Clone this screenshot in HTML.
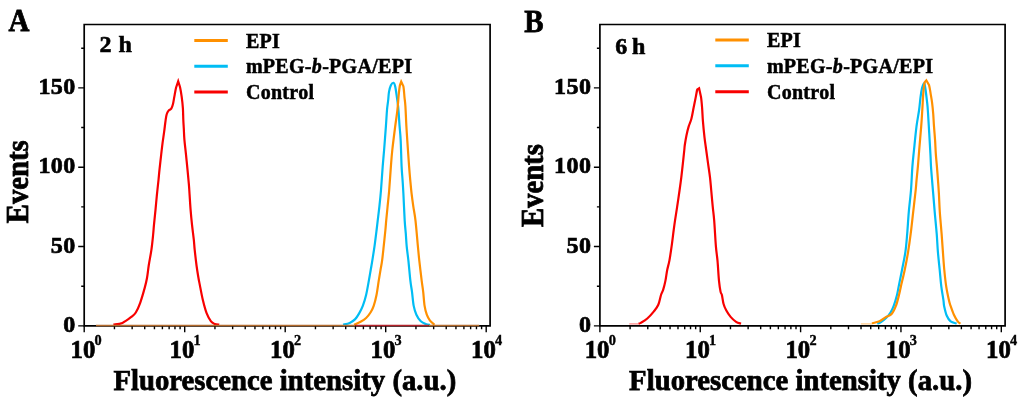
<!DOCTYPE html>
<html><head><meta charset="utf-8"><style>
html,body{margin:0;padding:0;background:#fff;width:1024px;height:403px;overflow:hidden}
svg{display:block;will-change:transform}
text{font-family:"Liberation Serif",serif;font-weight:bold;fill:#000}
.tl{font-size:24px;stroke:#000;stroke-width:0.7px}
.xl{font-size:24.8px}
.sup{font-size:14.3px;stroke:#000;stroke-width:0.4px}
.pl{font-size:29px;stroke:#000;stroke-width:0.7px}
.hr{font-size:24px;stroke:#000;stroke-width:0.6px}
.at{font-size:28.7px;stroke:#000;stroke-width:0.75px}
.lg{font-size:20px;letter-spacing:0.3px;stroke:#000;stroke-width:0.5px}
</style></head><body>
<svg width="1024" height="403" viewBox="0 0 1024 403">
<path d="M113.40,324.60C114.90,324.32 119.42,324.18 122.40,322.90C125.38,321.62 129.07,318.63 131.30,316.90C133.53,315.17 134.32,314.85 135.80,312.50C137.28,310.15 138.72,306.90 140.20,302.80C141.68,298.70 143.57,292.03 144.70,287.90C145.83,283.77 146.32,281.82 147.00,278.00C147.68,274.18 148.07,269.68 148.80,265.00C149.53,260.32 150.68,254.90 151.40,249.90C152.12,244.90 152.67,239.20 153.10,235.00C153.53,230.80 153.60,228.90 154.00,224.70C154.40,220.50 155.02,214.77 155.50,209.80C155.98,204.83 156.40,199.87 156.90,194.90C157.40,189.93 158.07,184.20 158.50,180.00C158.93,175.80 159.05,173.95 159.50,169.70C159.95,165.45 160.68,159.02 161.20,154.50C161.72,149.98 162.12,146.32 162.60,142.60C163.08,138.88 163.60,135.92 164.10,132.20C164.60,128.48 165.17,123.28 165.60,120.30C166.03,117.32 166.20,115.92 166.70,114.30C167.20,112.68 167.83,111.55 168.60,110.60C169.37,109.65 170.57,109.70 171.30,108.60C172.03,107.50 172.50,105.95 173.00,104.00C173.50,102.05 173.78,99.65 174.30,96.90C174.82,94.15 175.45,90.10 176.10,87.50L178.20,81.30L180.00,87.00C180.58,89.60 181.22,93.35 181.70,96.90C182.18,100.45 182.63,104.50 182.90,108.30C183.17,112.10 183.15,116.33 183.30,119.70C183.45,123.07 183.62,125.18 183.80,128.50C183.98,131.82 184.03,135.25 184.40,139.60C184.77,143.95 185.48,149.58 186.00,154.60C186.52,159.62 187.02,164.70 187.50,169.70C187.98,174.70 188.55,180.40 188.90,184.60C189.25,188.80 189.32,190.70 189.60,194.90C189.88,199.10 190.20,204.83 190.60,209.80C191.00,214.77 191.47,219.73 192.00,224.70C192.53,229.67 193.35,235.40 193.80,239.60C194.25,243.80 194.23,245.50 194.70,249.90C195.17,254.30 196.00,261.48 196.60,266.00C197.20,270.52 197.77,273.85 198.30,277.00C198.83,280.15 199.05,281.10 199.80,284.90C200.55,288.70 201.67,295.08 202.80,299.80C203.93,304.52 205.23,309.60 206.60,313.20C207.97,316.80 209.63,319.62 211.00,321.40C212.37,323.18 213.43,323.35 214.80,323.90C216.17,324.45 218.47,324.57 219.20,324.70" stroke="#f80000" stroke-width="2.2" fill="none" stroke-linejoin="miter" stroke-miterlimit="6"/>
<path d="M343.10,324.60C344.20,324.32 347.68,323.82 349.70,322.90C351.72,321.98 353.65,320.65 355.20,319.10C356.75,317.55 357.73,315.80 359.00,313.60C360.27,311.40 361.62,309.00 362.80,305.90C363.98,302.80 365.10,299.17 366.10,295.00C367.10,290.83 368.03,285.07 368.80,280.90C369.57,276.73 370.12,273.38 370.70,270.00C371.28,266.62 371.67,264.53 372.30,260.60C372.93,256.67 373.78,251.50 374.50,246.40C375.22,241.30 376.07,234.30 376.60,230.00C377.13,225.70 377.23,224.53 377.70,220.60C378.17,216.67 378.85,211.50 379.40,206.40C379.95,201.30 380.45,196.67 381.00,190.00C381.55,183.33 382.18,173.07 382.70,166.40C383.22,159.73 383.57,156.67 384.10,150.00C384.63,143.33 385.42,133.07 385.90,126.40C386.38,119.73 386.62,114.40 387.00,110.00C387.38,105.60 387.87,103.02 388.20,100.00C388.53,96.98 388.55,94.35 389.00,91.90C389.45,89.45 390.15,86.82 390.90,85.30C391.65,83.78 392.78,82.62 393.50,82.80C394.22,82.98 394.63,83.98 395.20,86.40C395.77,88.82 396.40,93.83 396.90,97.30C397.40,100.77 397.75,102.35 398.20,107.20C398.65,112.05 399.18,120.83 399.60,126.40C400.02,131.97 400.37,133.93 400.70,140.60C401.03,147.27 401.28,159.73 401.60,166.40C401.92,173.07 402.30,176.05 402.60,180.60C402.90,185.15 403.05,187.03 403.40,193.70C403.75,200.37 404.30,213.93 404.70,220.60C405.10,227.27 405.47,229.40 405.80,233.70C406.13,238.00 406.27,241.92 406.70,246.40C407.13,250.88 407.78,254.85 408.40,260.60C409.02,266.35 409.80,275.68 410.40,280.90C411.00,286.12 411.45,287.73 412.00,291.90C412.55,296.07 412.97,302.10 413.70,305.90C414.43,309.70 415.22,312.13 416.40,314.70C417.58,317.27 419.15,319.70 420.80,321.30C422.45,322.90 424.77,323.70 426.30,324.30C427.83,324.90 429.38,324.80 430.00,324.90" stroke="#00bdf4" stroke-width="2.2" fill="none" stroke-linejoin="miter" stroke-miterlimit="6"/>
<path d="M354.10,324.80C355.18,324.30 358.60,322.93 360.60,321.80C362.60,320.67 364.45,319.55 366.10,318.00C367.75,316.45 369.23,314.52 370.50,312.50C371.77,310.48 372.70,308.82 373.70,305.90C374.70,302.98 375.67,299.17 376.50,295.00C377.33,290.83 378.03,285.07 378.70,280.90C379.37,276.73 379.93,273.38 380.50,270.00C381.07,266.62 381.57,264.53 382.10,260.60C382.63,256.67 383.15,251.50 383.70,246.40C384.25,241.30 384.98,234.30 385.40,230.00C385.82,225.70 385.83,224.53 386.20,220.60C386.57,216.67 387.10,211.50 387.60,206.40C388.10,201.30 388.65,196.67 389.20,190.00C389.75,183.33 390.38,173.07 390.90,166.40C391.42,159.73 391.58,156.67 392.30,150.00C393.02,143.33 394.35,133.07 395.20,126.40C396.05,119.73 396.80,115.40 397.40,110.00C398.00,104.60 398.38,98.12 398.80,94.00C399.22,89.88 399.50,87.37 399.90,85.30L401.20,81.60L403.40,86.40C403.95,89.02 404.17,94.02 404.50,97.30C404.83,100.58 405.08,101.25 405.40,106.10C405.72,110.95 406.08,120.65 406.40,126.40C406.72,132.15 406.85,133.93 407.30,140.60C407.75,147.27 408.60,159.73 409.10,166.40C409.60,173.07 409.88,176.05 410.30,180.60C410.72,185.15 411.10,189.40 411.60,193.70C412.10,198.00 412.65,201.92 413.30,206.40C413.95,210.88 414.73,213.93 415.50,220.60C416.27,227.27 417.27,239.73 417.90,246.40C418.53,253.07 418.67,254.85 419.30,260.60C419.93,266.35 421.05,275.68 421.70,280.90C422.35,286.12 422.72,287.73 423.20,291.90C423.68,296.07 424.00,302.10 424.60,305.90C425.20,309.70 425.90,312.23 426.80,314.70C427.70,317.17 428.73,319.03 430.00,320.70C431.27,322.37 433.67,324.03 434.40,324.70" stroke="#ff9000" stroke-width="2.2" fill="none" stroke-linejoin="miter" stroke-miterlimit="6"/>
<path d="M638.60,323.70C638.97,323.57 639.35,323.77 640.80,322.90C642.25,322.03 645.12,320.42 647.30,318.50C649.48,316.58 652.07,313.68 653.90,311.40C655.73,309.12 657.12,307.53 658.30,304.80C659.48,302.07 660.18,297.52 661.00,295.00C661.82,292.48 662.47,292.05 663.20,289.70C663.93,287.35 664.73,284.18 665.40,280.90C666.07,277.62 666.53,273.38 667.20,270.00C667.87,266.62 668.67,264.53 669.40,260.60C670.13,256.67 670.88,251.50 671.60,246.40C672.32,241.30 673.13,234.30 673.70,230.00C674.27,225.70 674.42,224.53 675.00,220.60C675.58,216.67 676.43,211.50 677.20,206.40C677.97,201.30 678.92,194.85 679.60,190.00C680.28,185.15 680.75,181.78 681.30,177.30C681.85,172.82 682.40,167.65 682.90,163.10C683.40,158.55 683.98,153.02 684.30,150.00C684.62,146.98 684.43,147.47 684.80,145.00C685.17,142.53 685.85,138.30 686.50,135.20C687.15,132.10 687.88,129.15 688.70,126.40C689.52,123.65 690.58,121.80 691.40,118.70C692.22,115.60 692.87,111.43 693.60,107.80C694.33,104.17 695.18,99.95 695.80,96.90C696.42,93.85 696.75,90.93 697.30,89.50L699.10,88.30L701.00,96.90C701.50,100.15 701.78,103.80 702.10,107.80C702.42,111.80 702.50,115.98 702.90,120.90C703.30,125.82 703.95,132.45 704.50,137.30C705.05,142.15 705.62,145.70 706.20,150.00C706.78,154.30 707.37,158.55 708.00,163.10C708.63,167.65 709.47,172.82 710.00,177.30C710.53,181.78 710.75,185.15 711.20,190.00C711.65,194.85 712.20,201.30 712.70,206.40C713.20,211.50 713.67,213.93 714.20,220.60C714.73,227.27 715.35,239.73 715.90,246.40C716.45,253.07 716.98,254.85 717.50,260.60C718.02,266.35 718.48,275.68 719.00,280.90C719.52,286.12 720.12,289.55 720.60,291.90C721.08,294.25 721.42,293.03 721.90,295.00C722.38,296.97 722.78,301.15 723.50,303.70C724.22,306.25 725.02,308.10 726.20,310.30C727.38,312.50 728.95,314.98 730.60,316.90C732.25,318.82 734.37,320.67 736.10,321.80C737.83,322.93 740.18,323.38 741.00,323.70" stroke="#f80000" stroke-width="2.2" fill="none" stroke-linejoin="miter" stroke-miterlimit="6"/>
<path d="M877.30,323.70C877.85,323.47 879.13,323.25 880.60,322.30C882.07,321.35 884.45,319.63 886.10,318.00C887.75,316.37 889.23,314.52 890.50,312.50C891.77,310.48 892.62,308.82 893.70,305.90C894.78,302.98 896.17,298.25 897.00,295.00C897.83,291.75 897.87,290.57 898.70,286.40C899.53,282.23 900.88,275.75 902.00,270.00C903.12,264.25 904.53,257.95 905.40,251.90C906.27,245.85 906.63,240.37 907.20,233.70C907.77,227.03 908.17,219.18 908.80,211.90C909.43,204.62 910.40,197.58 911.00,190.00C911.60,182.42 911.90,173.07 912.40,166.40C912.90,159.73 913.32,156.67 914.00,150.00C914.68,143.33 915.65,133.07 916.50,126.40C917.35,119.73 918.43,114.85 919.10,110.00C919.77,105.15 920.02,100.92 920.50,97.30C920.98,93.68 921.42,90.65 922.00,88.30C922.58,85.95 923.47,83.33 924.00,83.20C924.53,83.07 924.72,84.60 925.20,87.50C925.68,90.40 926.43,96.40 926.90,100.60C927.37,104.80 927.42,103.85 928.00,112.70C928.58,121.55 929.90,144.75 930.40,153.70C930.90,162.65 930.72,161.92 931.00,166.40C931.28,170.88 931.73,176.05 932.10,180.60C932.47,185.15 932.77,188.48 933.20,193.70C933.63,198.92 934.12,205.23 934.70,211.90C935.28,218.57 936.17,227.03 936.70,233.70C937.23,240.37 937.40,245.85 937.90,251.90C938.40,257.95 939.13,264.25 939.70,270.00C940.27,275.75 940.67,281.30 941.30,286.40C941.93,291.50 943.03,297.35 943.50,300.60C943.97,303.85 943.55,303.37 944.10,305.90C944.65,308.43 945.72,313.23 946.80,315.80C947.88,318.37 948.97,319.98 950.60,321.30C952.23,322.62 955.60,323.30 956.60,323.70" stroke="#00bdf4" stroke-width="2.2" fill="none" stroke-linejoin="miter" stroke-miterlimit="6"/>
<path d="M871.90,323.30C873.17,322.97 877.13,322.37 879.50,321.30C881.87,320.23 884.08,318.10 886.10,316.90C888.12,315.70 889.97,315.93 891.60,314.10C893.23,312.27 894.67,309.08 895.90,305.90C897.13,302.72 898.17,298.25 899.00,295.00C899.83,291.75 899.95,290.57 900.90,286.40C901.85,282.23 903.50,275.75 904.70,270.00C905.90,264.25 907.10,257.95 908.10,251.90C909.10,245.85 909.85,240.37 910.70,233.70C911.55,227.03 912.37,219.18 913.20,211.90C914.03,204.62 915.15,195.22 915.70,190.00C916.25,184.78 916.13,184.53 916.50,180.60C916.87,176.67 917.45,171.50 917.90,166.40C918.35,161.30 918.65,156.67 919.20,150.00C919.75,143.33 920.68,133.07 921.20,126.40C921.72,119.73 921.93,115.75 922.30,110.00C922.67,104.25 923.00,96.53 923.40,91.90C923.80,87.27 924.22,84.13 924.70,82.20L926.30,80.30L929.10,85.30C929.83,87.60 930.20,91.18 930.70,94.10C931.20,97.02 931.68,99.53 932.10,102.80C932.52,106.07 932.88,109.77 933.20,113.70C933.52,117.63 933.68,121.92 934.00,126.40C934.32,130.88 934.80,136.05 935.10,140.60C935.40,145.15 935.50,149.40 935.80,153.70C936.10,158.00 936.53,161.92 936.90,166.40C937.27,170.88 937.67,176.05 938.00,180.60C938.33,185.15 938.60,188.48 938.90,193.70C939.20,198.92 939.35,205.23 939.80,211.90C940.25,218.57 941.08,227.03 941.60,233.70C942.12,240.37 942.45,245.85 942.90,251.90C943.35,257.95 943.75,264.25 944.30,270.00C944.85,275.75 945.42,281.30 946.20,286.40C946.98,291.50 948.27,297.35 949.00,300.60C949.73,303.85 949.78,303.55 950.60,305.90C951.42,308.25 952.72,312.13 953.90,314.70C955.08,317.27 956.60,319.80 957.70,321.30C958.80,322.80 960.03,323.30 960.50,323.70" stroke="#ff9000" stroke-width="2.2" fill="none" stroke-linejoin="miter" stroke-miterlimit="6"/>
<path d="M114.45,325.9v3.3 M132.15,325.9v3.3 M144.71,325.9v3.3 M154.45,325.9v3.3 M162.40,325.9v3.3 M169.13,325.9v3.3 M174.96,325.9v3.3 M180.10,325.9v3.3 M214.95,325.9v3.3 M232.65,325.9v3.3 M245.21,325.9v3.3 M254.95,325.9v3.3 M262.90,325.9v3.3 M269.63,325.9v3.3 M275.46,325.9v3.3 M280.60,325.9v3.3 M315.45,325.9v3.3 M333.15,325.9v3.3 M345.71,325.9v3.3 M355.45,325.9v3.3 M363.40,325.9v3.3 M370.13,325.9v3.3 M375.96,325.9v3.3 M381.10,325.9v3.3 M415.95,325.9v3.3 M433.65,325.9v3.3 M446.21,325.9v3.3 M455.95,325.9v3.3 M463.90,325.9v3.3 M470.63,325.9v3.3 M476.46,325.9v3.3 M481.60,325.9v3.3 M84.20,325.9v6.3 M184.70,325.9v6.3 M285.20,325.9v6.3 M385.70,325.9v6.3 M486.20,325.9v6.3 M84.2,325.90h-6 M84.2,286.23h-3 M84.2,246.56h-6 M84.2,206.90h-3 M84.2,167.23h-6 M84.2,127.56h-3 M84.2,87.89h-6 M84.2,48.23h-3" stroke="#000" stroke-width="1.4" fill="none"/>
<path d="M84.2,325.9V24.5H490.1V325.9Z" stroke="#000" stroke-width="1.7" fill="none"/>
<text x="75.60000000000001" y="331.8" text-anchor="end" class="tl" letter-spacing="0.4">0</text>
<text x="75.60000000000001" y="252.5" text-anchor="end" class="tl" letter-spacing="0.4">50</text>
<text x="75.60000000000001" y="173.1" text-anchor="end" class="tl" letter-spacing="0.4">100</text>
<text x="75.60000000000001" y="93.8" text-anchor="end" class="tl" letter-spacing="0.4">150</text>
<text x="70.6" y="357.8" class="tl xl">10</text><text x="94.6" y="344.5" class="sup">0</text>
<text x="169.5" y="357.8" class="tl xl">10</text><text x="193.5" y="344.5" class="sup">1</text>
<text x="270.0" y="357.8" class="tl xl">10</text><text x="294.0" y="344.5" class="sup">2</text>
<text x="370.5" y="357.8" class="tl xl">10</text><text x="394.5" y="344.5" class="sup">3</text>
<text x="471.0" y="357.8" class="tl xl">10</text><text x="495.0" y="344.5" class="sup">4</text>
<text transform="translate(8.6,31.3) scale(1,1.1)" class="pl">A</text>
<text x="99.5" y="52.0" class="hr">2<tspan dx="1.0"> h</tspan></text>
<text x="113.39999999999999" y="389.7" class="at" letter-spacing="0.03">Fluorescence intensity (a.u.)</text>
<text transform="translate(27.6,181.75) rotate(-90) scale(1,1.1)" text-anchor="middle" class="at ev">Events</text>
<path d="M194.3,40.5h33.5" stroke="#ff9000" stroke-width="3"/>
<text x="245.9" y="47.7" class="lg">EPI</text>
<path d="M194.3,66.2h33.5" stroke="#00bdf4" stroke-width="3"/>
<text x="245.9" y="73.4" class="lg">mPEG-<tspan font-style="italic">b</tspan>-PGA/EPI</text>
<path d="M194.3,92.1h33.5" stroke="#f80000" stroke-width="3"/>
<text x="245.9" y="99.3" class="lg">Control</text>
<path d="M630.11,325.9v3.3 M647.78,325.9v3.3 M660.32,325.9v3.3 M670.04,325.9v3.3 M677.99,325.9v3.3 M684.71,325.9v3.3 M690.53,325.9v3.3 M695.66,325.9v3.3 M730.46,325.9v3.3 M748.13,325.9v3.3 M760.67,325.9v3.3 M770.39,325.9v3.3 M778.34,325.9v3.3 M785.06,325.9v3.3 M790.88,325.9v3.3 M796.01,325.9v3.3 M830.81,325.9v3.3 M848.48,325.9v3.3 M861.02,325.9v3.3 M870.74,325.9v3.3 M878.69,325.9v3.3 M885.41,325.9v3.3 M891.23,325.9v3.3 M896.36,325.9v3.3 M931.16,325.9v3.3 M948.83,325.9v3.3 M961.37,325.9v3.3 M971.09,325.9v3.3 M979.04,325.9v3.3 M985.76,325.9v3.3 M991.58,325.9v3.3 M996.71,325.9v3.3 M599.90,325.9v6.3 M700.25,325.9v6.3 M800.60,325.9v6.3 M900.95,325.9v6.3 M1001.30,325.9v6.3 M599.9000000000001,325.90h-6 M599.9000000000001,286.23h-3 M599.9000000000001,246.56h-6 M599.9000000000001,206.90h-3 M599.9000000000001,167.23h-6 M599.9000000000001,127.56h-3 M599.9000000000001,87.89h-6 M599.9000000000001,48.23h-3" stroke="#000" stroke-width="1.4" fill="none"/>
<path d="M599.9000000000001,325.9V24.5H1005.1V325.9Z" stroke="#000" stroke-width="1.7" fill="none"/>
<text x="591.3000000000001" y="331.8" text-anchor="end" class="tl" letter-spacing="0.4">0</text>
<text x="591.3000000000001" y="252.5" text-anchor="end" class="tl" letter-spacing="0.4">50</text>
<text x="591.3000000000001" y="173.1" text-anchor="end" class="tl" letter-spacing="0.4">100</text>
<text x="591.3000000000001" y="93.8" text-anchor="end" class="tl" letter-spacing="0.4">150</text>
<text x="584.7" y="357.8" class="tl xl">10</text><text x="608.7" y="344.5" class="sup">0</text>
<text x="685.1" y="357.8" class="tl xl">10</text><text x="709.1" y="344.5" class="sup">1</text>
<text x="785.4" y="357.8" class="tl xl">10</text><text x="809.4" y="344.5" class="sup">2</text>
<text x="885.8" y="357.8" class="tl xl">10</text><text x="909.8" y="344.5" class="sup">3</text>
<text x="986.1" y="357.8" class="tl xl">10</text><text x="1010.1" y="344.5" class="sup">4</text>
<text transform="translate(524.3000000000001,32.0) scale(1,1.1)" class="pl">B</text>
<text x="615.2" y="53.5" class="hr">6<tspan dx="-1.2"> h</tspan></text>
<text x="629.1" y="389.7" class="at" letter-spacing="0.03">Fluorescence intensity (a.u.)</text>
<text transform="translate(543.3000000000001,185.6) rotate(-90) scale(1,1.1)" text-anchor="middle" class="at ev">Events</text>
<path d="M715.3,40.1h33.5" stroke="#ff9000" stroke-width="3"/>
<text x="766.9" y="47.3" class="lg">EPI</text>
<path d="M715.3,65.8h33.5" stroke="#00bdf4" stroke-width="3"/>
<text x="766.9" y="73.0" class="lg">mPEG-<tspan font-style="italic">b</tspan>-PGA/EPI</text>
<path d="M715.3,91.69999999999999h33.5" stroke="#f80000" stroke-width="3"/>
<text x="766.9" y="98.9" class="lg">Control</text>
<path d="M629.3,323.9H638.8" stroke="#f80000" stroke-width="1.3" opacity="0.45"/>
<path d="M860.9,323.9H872" stroke="#ff9000" stroke-width="1.3" opacity="0.45"/>
<path d="M96,325.5H355.5M428.5,325.5H479.2" stroke="#b26a2c" stroke-width="1.4"/>
<path d="M355.5,325.5H428.5" stroke="#b4222a" stroke-width="1.4"/>
</svg></body></html>
